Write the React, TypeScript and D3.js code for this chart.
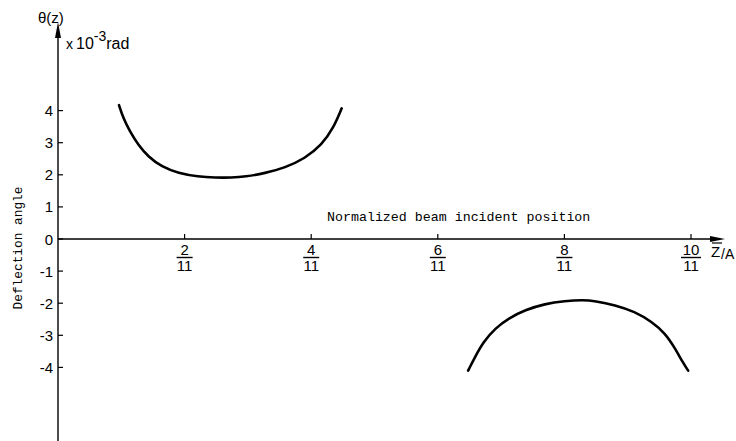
import React from "react";
import * as d3 from "d3";

// Deflection angle θ(z) (×10⁻³ rad) versus normalized beam incident position z/A
const upperZ = [0.0876, 0.0938, 0.1034, 0.1153, 0.1297, 0.1489, 0.1728, 0.2015, 0.2255, 0.2495, 0.2686, 0.2973, 0.326, 0.3547, 0.3787, 0.3954, 0.4074];
const upperTheta = [4.17, 3.76, 3.34, 2.93, 2.56, 2.25, 2.05, 1.94, 1.91, 1.91, 1.94, 2.05, 2.22, 2.51, 2.93, 3.45, 4.07];

const lowerZ = [0.589, 0.599, 0.611, 0.628, 0.647, 0.671, 0.699, 0.728, 0.754, 0.771, 0.8, 0.828, 0.853, 0.872, 0.886, 0.898, 0.905];
const lowerTheta = [-4.1, -3.67, -3.2, -2.78, -2.47, -2.21, -2.02, -1.93, -1.9, -1.93, -2.06, -2.26, -2.58, -2.94, -3.4, -3.87, -4.1];

const yTicks = [-4, -3, -2, -1, 0, 1, 2, 3, 4];
const xTickNumerators = [2, 4, 6, 8, 10];
const xTickDenominator = 11;

const W = 736;
const H = 441;

export default function App() {
  const x = d3.scaleLinear().domain([0, 1]).range([58, 754.3]);
  const y = d3.scaleLinear().domain([-4, 4]).range([367.4, 110.6]);

  // smoothed curve through the sampled points
  const line = d3
    .line<[number, number]>()
    .x((d) => x(d[0]))
    .y((d) => y(d[1]))
    .curve(d3.curveBasis);

  const upper = upperZ.map((z, i) => [z, upperTheta[i]] as [number, number]);
  const lower = lowerZ.map((z, i) => [z, lowerTheta[i]] as [number, number]);

  const x0 = x(0);
  const y0 = y(0);
  const sans = "'Liberation Sans', Arial, sans-serif";
  const mono = "'Liberation Mono', 'Courier New', monospace";

  return (
    <svg
      width={W}
      height={H}
      viewBox={`0 0 ${W} ${H}`}
      style={{ position: "absolute", left: 0, top: 0, background: "#fff" }}
    >
      {/* vertical axis with arrow */}
      <line x1={x0} x2={x0} y1={H} y2={34} stroke="#000" strokeWidth={1.4} />
      <polygon points={`${x0},22 ${x0 - 3},38 ${x0 + 3},38`} fill="#000" />

      {/* horizontal axis with arrow */}
      <line x1={x0} x2={712} y1={y0} y2={y0} stroke="#000" strokeWidth={1.4} />
      <polygon points={`725,${y0} 710,${y0 - 3} 710,${y0 + 3}`} fill="#000" />

      {/* y ticks */}
      {yTicks.map((t) => (
        <g key={t}>
          <line x1={x0} x2={x0 + 5} y1={y(t)} y2={y(t)} stroke="#000" strokeWidth={1.2} />
          <text
            x={x0 - 5}
            y={y(t) + 5.5}
            textAnchor="end"
            fontFamily={sans}
            fontSize={15}
            fill="#000"
          >
            {t < 0 ? `-${Math.abs(t)}` : `${t}`}
          </text>
        </g>
      ))}

      {/* x ticks as fractions */}
      {xTickNumerators.map((n) => {
        const cx = x(n / xTickDenominator);
        const barW = n >= 10 ? 20 : 16;
        return (
          <g key={n}>
            <line x1={cx} x2={cx} y1={y0} y2={y0 - 5} stroke="#000" strokeWidth={1.2} />
            <text x={cx} y={255} textAnchor="middle" fontFamily={sans} fontSize={15} fill="#000">
              {n}
            </text>
            <line x1={cx - barW / 2} x2={cx + barW / 2} y1={257.5} y2={257.5} stroke="#000" strokeWidth={1.4} />
            <text x={cx} y={271} textAnchor="middle" fontFamily={sans} fontSize={15} fill="#000">
              {xTickDenominator}
            </text>
          </g>
        );
      })}

      {/* curves */}
      <path d={line(upper) ?? ""} fill="none" stroke="#000" strokeWidth={2.6} strokeLinecap="round" />
      <path d={line(lower) ?? ""} fill="none" stroke="#000" strokeWidth={2.6} strokeLinecap="round" />

      {/* axis titles */}
      <text x={38} y={23} fontFamily={sans} fontSize={15} fill="#000">
        θ(z)
      </text>
      <text x={66} y={49} fontFamily={sans} fontSize={16} fill="#000">
        <tspan fontSize={14}>x</tspan>
        <tspan dx={3}>10</tspan>
        <tspan dy={-8} fontSize={14}>-3</tspan>
        <tspan dy={8}>rad</tspan>
      </text>

      <text x={327} y={221} fontFamily={mono} fontSize={13.3} fill="#000">
        Normalized beam incident position
      </text>
      <text
        transform="translate(22,248) rotate(-90)"
        textAnchor="middle"
        fontFamily={mono}
        fontSize={12.8}
        fill="#000"
      >
        Deflection angle
      </text>

      {/* z̄/A label */}
      <line x1={712} x2={722} y1={243} y2={243} stroke="#000" strokeWidth={1.2} />
      <text x={711} y={257} fontFamily={sans} fontSize={15} fill="#000">
        Z
      </text>
      <text x={721} y={259} fontFamily={sans} fontSize={14} fill="#000">
        /A
      </text>
    </svg>
  );
}
